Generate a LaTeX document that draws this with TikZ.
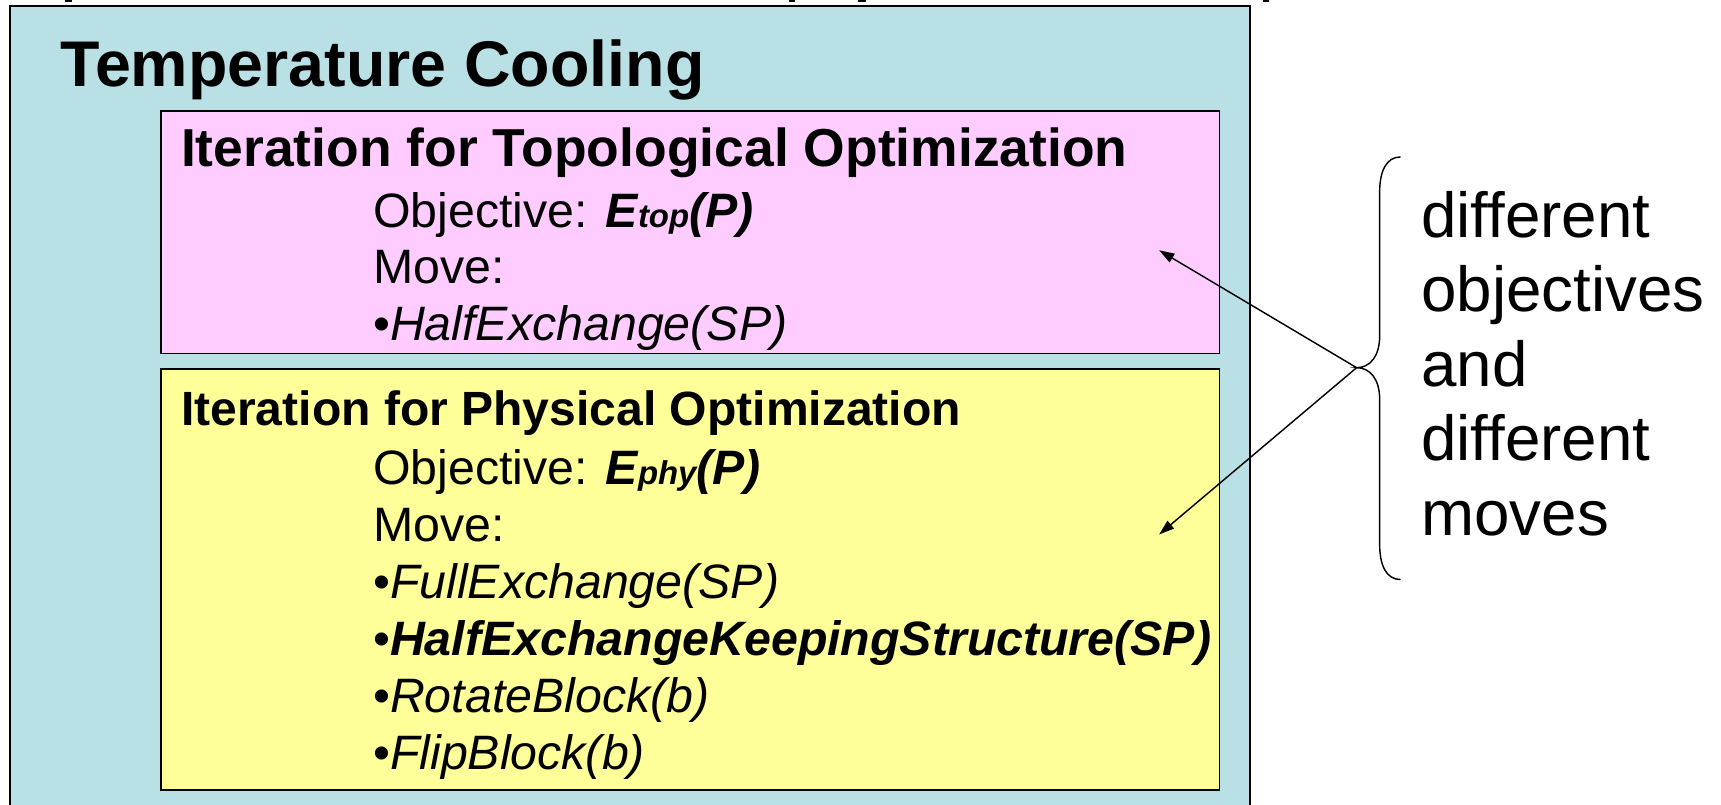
\documentclass[tikz,border=0pt]{standalone}
\usepackage{fontspec}
\setmainfont{Liberation Sans}
\usetikzlibrary{arrows.meta}

\definecolor{coolbg}{RGB}{185,224,228}
\definecolor{topofill}{RGB}{255,204,255}
\definecolor{physfill}{RGB}{255,255,153}

\newcommand\fsz[1]{\fontsize{#1}{#1}\selectfont}
\newcommand\smallpart[1]{{\fontsize{30}{30}\selectfont #1}}

\begin{document}
\begin{tikzpicture}[x=1pt,y=-1pt,
  panel/.style={draw=black, line width=1.6pt},
  txt/.style={anchor=base west, inner sep=0pt, outer sep=0pt},
  titletxt/.style={txt, font=\bfseries\fsz{58.8}},
  headtxt/.style={txt, font=\bfseries\fsz{#1}},
  bodytxt/.style={txt, font=\fsz{44}},
  notetxt/.style={txt, font=\fsz{58}},
  connector/.style={line width=1.3pt, -{Triangle[length=14pt,width=9pt]}},
  bracepath/.style={line width=1.3pt}]

\useasboundingbox (0,0) rectangle (1568,733);
\fill[white] (0,0) rectangle (1568,733);

% cut-off glyph bottoms along the top edge
\fill[black] (59,0) rectangle (66,1.6);
\fill[black] (719,0) rectangle (724,1.6);
\fill[black] (782,0) rectangle (789,1.6);
\fill[black] (1151,0) rectangle (1156,1.6);

% outer cooling panel (runs off the bottom)
\fill[coolbg] (9,5.5) rectangle (1139,740);
\draw[line width=2pt] (9,740) -- (9,5.5) -- (1139,5.5) -- (1139,740);

% inner iteration panels
\draw[panel, fill=topofill] (147,101) rectangle (1111,322);
\draw[panel, fill=physfill] (147,336) rectangle (1111,720);

% titles
\node[titletxt] (title) at (55,79) {Temperature Cooling};
\node[headtxt=48.7] (toph) at (165,152) {Iteration for Topological Optimization};
\node[headtxt=43.8] (phyh) at (165,388) {Iteration for Physical Optimization};

% topological iteration
\node[bodytxt] (topobj) at (340,207) {Objective: \textbf{\textit{E\smallpart{top}(P)}}};
\node[bodytxt] (topmove) at (340,258.5) {Move:};
\node[bodytxt] (topm1) at (340,310) {•\textit{HalfExchange(SP)}};

% physical iteration
\node[bodytxt] (phyobj) at (340,441) {Objective: \textbf{\textit{E\smallpart{phy}(P)}}};
\node[bodytxt] (phymove) at (340,493) {Move:};
\node[bodytxt] (phym1) at (340,545) {•\textit{FullExchange(SP)}};
\node[bodytxt] (phym2) at (340,597) {•\textbf{\textit{HalfExchangeKeepingStructure(SP)}}};
\node[bodytxt] (phym3) at (340,649) {•\textit{RotateBlock(b)}};
\node[bodytxt] (phym4) at (340,701) {•\textit{FlipBlock(b)}};

% side note
\node[notetxt] (n1) at (1295,216) {different};
\node[notetxt] (n2) at (1295,284) {objectives};
\node[notetxt] (n3) at (1295,352) {and};
\node[notetxt] (n4) at (1295,420) {different};
\node[notetxt] (n5) at (1295,488) {moves};

% curly brace
\coordinate (btop) at (1276,143);
\coordinate (tip) at (1236,335);
\coordinate (bbot) at (1276,528);
\draw[bracepath] (btop) .. controls (1263,143) and (1257,156) .. (1257,175)
  -- (1257,306) .. controls (1257,325) and (1248,335) .. (tip)
  .. controls (1248,335) and (1257,345) .. (1257,364)
  -- (1257,496) .. controls (1257,515) and (1263,528) .. (bbot);

% pointers into the two panels
\coordinate (toptarget) at (1056,228);
\coordinate (phytarget) at (1056,487);
\draw[connector] (tip) -- (toptarget);
\draw[connector] (tip) -- (phytarget);
\end{tikzpicture}
\end{document}
